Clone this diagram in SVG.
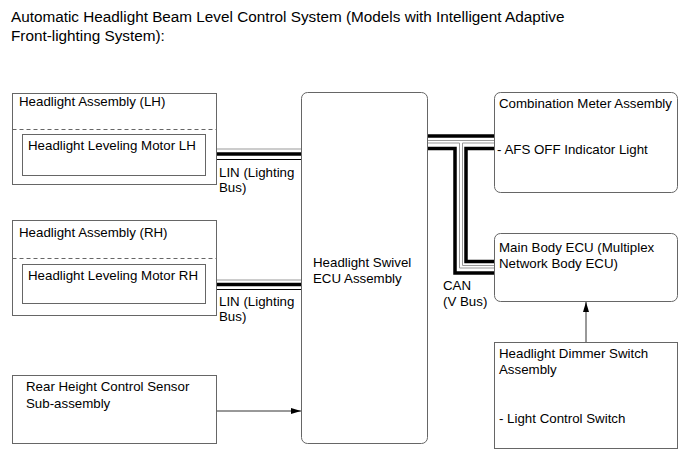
<svg xmlns="http://www.w3.org/2000/svg" width="691" height="465" viewBox="0 0 691 465">
<defs>
<style>
text{font-family:"Liberation Sans",Arial,sans-serif;font-size:13.3px;fill:#000}
.title{font-size:15.3px}
.box{fill:#fff;stroke:#666;stroke-width:1}
.dash{stroke:#666;stroke-width:1;stroke-dasharray:4,3;fill:none}
.thick{stroke:#000;stroke-width:3.5;fill:none}
.thin{stroke:#000;stroke-width:1;fill:none}
.gray{stroke:#999;stroke-width:1;fill:none}
.arrow{stroke:#333;stroke-width:1;fill:none;marker-end:url(#ah)}
</style>
<marker id="ah" markerWidth="10" markerHeight="8" refX="10" refY="4" orient="auto" markerUnits="userSpaceOnUse">
<path d="M0,1 L10,4 L0,7 Z" fill="#000"/>
</marker>
</defs>
<rect width="691" height="465" fill="#fff"/>
<text class="title" x="11" y="22">Automatic Headlight Beam Level Control System (Models with Intelligent Adaptive</text>
<text class="title" x="11" y="41">Front-lighting System):</text>

<g id="connectors">
<line class="gray" x1="206" y1="149" x2="301" y2="149"/>
<line class="thick" x1="206" y1="154" x2="301" y2="154"/>
<line class="thin" x1="216" y1="159.5" x2="301" y2="159.5"/>
<line class="gray" x1="206" y1="280" x2="301" y2="280"/>
<line class="thick" x1="206" y1="284.5" x2="301" y2="284.5"/>
<line class="thin" x1="216" y1="289.5" x2="301" y2="289.5"/>
<line class="thick" x1="427" y1="136" x2="494" y2="136"/>
<line class="gray" x1="427" y1="140.5" x2="494" y2="140.5"/>
<polyline class="gray" points="427,143 459.5,143 459.5,268 494,268"/>
<polyline class="gray" points="494,143 462.5,143 462.5,265.5 494,265.5"/>
<polyline class="thick" points="427,148.5 455,148.5 455,273 494,273"/>
<polyline class="thick" points="494,148.5 466,148.5 466,261.5 494,261.5"/>
<line class="arrow" x1="216" y1="411" x2="301" y2="411"/>
<line class="arrow" x1="586" y1="342" x2="586" y2="302"/>
</g>

<g id="lh-assembly">
<rect class="box" x="12.5" y="93.5" width="204" height="91"/>
<line class="dash" x1="12.5" y1="129.5" x2="216.5" y2="129.5"/>
<text x="19" y="106">Headlight Assembly (LH)</text>
</g>
<g id="lh-motor">
<rect class="box" x="22.5" y="134.5" width="183" height="41"/>
<text x="28" y="150">Headlight Leveling Motor LH</text>
</g>
<text x="219" y="177">LIN (Lighting</text>
<text x="219" y="192">Bus)</text>

<g id="rh-assembly">
<rect class="box" x="12.5" y="220.5" width="204" height="95"/>
<line class="dash" x1="12.5" y1="258.5" x2="216.5" y2="258.5"/>
<text x="19" y="237">Headlight Assembly (RH)</text>
</g>
<g id="rh-motor">
<rect class="box" x="22.5" y="264.5" width="183" height="39"/>
<text x="28" y="280">Headlight Leveling Motor RH</text>
</g>
<text x="219" y="306">LIN (Lighting</text>
<text x="219" y="321">Bus)</text>

<g id="rear-sensor">
<rect class="box" x="12.5" y="375.5" width="204" height="68"/>
<text x="26" y="391">Rear Height Control Sensor</text>
<text x="26" y="408">Sub-assembly</text>
</g>

<g id="swivel-ecu">
<rect class="box" x="301.5" y="92.5" width="126" height="351" rx="6"/>
<text x="313" y="267">Headlight Swivel</text>
<text x="313" y="283">ECU Assembly</text>
</g>

<g id="combination-meter">
<rect class="box" x="494.5" y="92.5" width="183" height="100" rx="6"/>
<text x="499" y="108">Combination Meter Assembly</text>
<text x="497" y="154">- AFS OFF Indicator Light</text>
</g>

<g id="main-body-ecu">
<rect class="box" x="494.5" y="233.5" width="183" height="68" rx="6"/>
<text x="499" y="252">Main Body ECU (Multiplex</text>
<text x="499" y="268">Network Body ECU)</text>
</g>
<text x="443" y="290">CAN</text>
<text x="443" y="306">(V Bus)</text>

<g id="dimmer-switch">
<rect class="box" x="494.5" y="342.5" width="183" height="106"/>
<text x="499" y="358">Headlight Dimmer Switch</text>
<text x="499" y="374">Assembly</text>
<text x="499" y="423">- Light Control Switch</text>
</g>
</svg>
